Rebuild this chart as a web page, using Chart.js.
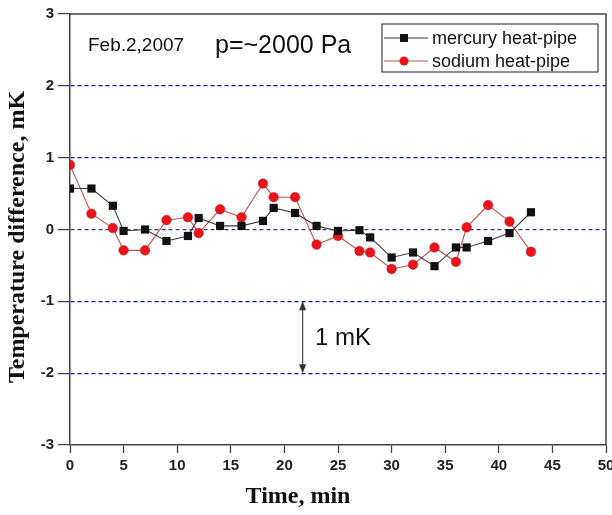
<!DOCTYPE html>
<html>
<head>
<meta charset="utf-8">
<script src="https://cdn.jsdelivr.net/npm/chart.js@4.4.0/dist/chart.umd.min.js"></script>
<style>
html,body{margin:0;padding:0;background:#fff;}
#wrap{width:612px;height:515px;position:relative;}
</style>
</head>
<body>
<div id="wrap"><canvas id="c" width="612" height="515"></canvas></div>
<script>
const times = [0,2,4,5,7,9,11,12,14,16,18,19,21,23,25,27,28,30,32,34,36,37,39,41,43];
const mercury = [0.57,0.57,0.33,-0.02,0.00,-0.16,-0.09,0.16,0.05,0.05,0.12,0.30,0.23,0.05,-0.02,-0.01,-0.11,-0.39,-0.32,-0.51,-0.25,-0.25,-0.16,-0.05,0.24];
const sodium = [0.90,0.22,0.02,-0.29,-0.29,0.13,0.17,-0.05,0.28,0.17,0.64,0.45,0.45,-0.21,-0.09,-0.30,-0.32,-0.55,-0.49,-0.25,-0.45,0.03,0.34,0.11,-0.31];
const seriesNames = ['mercury heat-pipe','sodium heat-pipe'];
const xTitle = 'Time, min';
const yTitle = 'Temperature difference, mK';
const noteDate = 'Feb.2,2007';
const notePressure = 'p=~2000 Pa';
const noteScale = '1 mK';
const scaleBar = {x: 21.7, from: -1, to: -2};

const toPts = (xs, ys) => xs.map((x, i) => ({x: x, y: ys[i]}));

const overlay = {
  id: 'overlay',
  afterDraw(chart) {
    const {ctx, chartArea: a, scales: {x, y}} = chart;
    ctx.save();
    ctx.strokeStyle = '#444';
    ctx.lineWidth = 1.5;
    ctx.beginPath();
    ctx.moveTo(a.left, a.top); ctx.lineTo(a.right, a.top); ctx.lineTo(a.right, a.bottom);
    ctx.stroke();

    ctx.fillStyle = '#111';
    ctx.font = 'bold 24px "Liberation Serif", "Times New Roman", serif';
    ctx.textAlign = 'center';
    ctx.textBaseline = 'middle';
    ctx.fillText(xTitle, 298, 497);
    ctx.save();
    ctx.translate(18, 237);
    ctx.rotate(-Math.PI / 2);
    ctx.fillText(yTitle, 0, 0);
    ctx.restore();

    ctx.textAlign = 'left';
    ctx.fillStyle = '#111';
    ctx.font = '19px "Liberation Sans", Arial, sans-serif';
    ctx.fillText(noteDate, 88, 46);
    ctx.font = '25px "Liberation Sans", Arial, sans-serif';
    ctx.fillText(notePressure, 215, 46);

    const ax = x.getPixelForValue(scaleBar.x);
    const y1 = y.getPixelForValue(scaleBar.from);
    const y2 = y.getPixelForValue(scaleBar.to);
    ctx.strokeStyle = '#555';
    ctx.fillStyle = '#333';
    ctx.lineWidth = 1.3;
    ctx.beginPath(); ctx.moveTo(ax, y1 + 6); ctx.lineTo(ax, y2 - 6); ctx.stroke();
    ctx.beginPath(); ctx.moveTo(ax, y1); ctx.lineTo(ax - 3.5, y1 + 9); ctx.lineTo(ax + 3.5, y1 + 9); ctx.closePath(); ctx.fill();
    ctx.beginPath(); ctx.moveTo(ax, y2); ctx.lineTo(ax - 3.5, y2 - 9); ctx.lineTo(ax + 3.5, y2 - 9); ctx.closePath(); ctx.fill();
    ctx.fillStyle = '#111';
    ctx.font = '24px "Liberation Sans", Arial, sans-serif';
    ctx.textBaseline = 'middle';
    ctx.fillText(noteScale, 315, (y1 + y2) / 2 + 1);

    const lx = 382, ly = 24, lw = 216, lh = 48;
    ctx.fillStyle = '#fff';
    ctx.fillRect(lx, ly, lw, lh);
    ctx.strokeStyle = '#444';
    ctx.lineWidth = 1.2;
    ctx.strokeRect(lx, ly, lw, lh);
    const rows = [
      {name: seriesNames[0], line: '#333', fill: '#111', shape: 'rect', cy: 38},
      {name: seriesNames[1], line: '#c05050', fill: '#e8141c', shape: 'circle', cy: 61}
    ];
    rows.forEach(r => {
      ctx.strokeStyle = r.line;
      ctx.lineWidth = 1.2;
      ctx.beginPath(); ctx.moveTo(lx + 2, r.cy); ctx.lineTo(lx + 46, r.cy); ctx.stroke();
      ctx.fillStyle = r.fill;
      if (r.shape === 'rect') { ctx.fillRect(lx + 18, r.cy - 4, 8, 8); }
      else { ctx.beginPath(); ctx.arc(lx + 22, r.cy, 4.5, 0, Math.PI * 2); ctx.fill(); }
      ctx.fillStyle = '#111';
      ctx.font = '18px "Liberation Sans", Arial, sans-serif';
      ctx.textAlign = 'left';
      ctx.textBaseline = 'middle';
      ctx.fillText(r.name, lx + 50, r.cy + 1);
    });
    ctx.restore();
  }
};

const gridColor = (c) => {
  const v = c.tick ? c.tick.value : null;
  if (v === 3 || v === -3) return 'rgba(0,0,0,0)';
  if (v === 0) return '#3a3a8a';
  return '#0000ee';
};

new Chart(document.getElementById('c'), {
  type: 'line',
  data: {
    datasets: [
      {
        label: seriesNames[0],
        data: toPts(times, mercury),
        borderColor: '#3a3a3a',
        borderWidth: 1.1,
        pointStyle: 'rect',
        pointRadius: 5.8,
        pointBackgroundColor: '#111',
        pointBorderColor: '#111',
        pointBorderWidth: 0,
        tension: 0,
        fill: false
      },
      {
        label: seriesNames[1],
        data: toPts(times, sodium),
        borderColor: '#c05050',
        borderWidth: 1.1,
        pointStyle: 'circle',
        pointRadius: 4.8,
        pointBackgroundColor: '#e8141c',
        pointBorderColor: '#d01018',
        pointBorderWidth: 0.5,
        tension: 0,
        fill: false
      }
    ]
  },
  options: {
    responsive: false,
    animation: false,
    layout: {padding: {top: 14, right: 6, left: 0, bottom: 0}},
    plugins: {legend: {display: false}, tooltip: {enabled: false}},
    scales: {
      x: {
        type: 'linear',
        min: 0, max: 50,
        afterFit(s) { s.height = 70; s.paddingLeft = 0; s.paddingRight = 0; },
        ticks: {stepSize: 5, padding: 4, color: '#222', font: {family: '"Liberation Sans", Arial, sans-serif', size: 15, weight: 'bold'}, maxRotation: 0},
        grid: {drawOnChartArea: false, drawTicks: true, tickLength: 8, tickColor: '#444', tickWidth: 1.3},
        border: {color: '#444', width: 1.5}
      },
      y: {
        min: -3, max: 3,
        afterFit(s) { s.width = 70; s.paddingTop = 0; s.paddingBottom = 0; },
        ticks: {stepSize: 1, padding: 4, color: '#222', font: {family: '"Liberation Sans", Arial, sans-serif', size: 15, weight: 'bold'}},
        grid: {
          drawOnChartArea: true, drawTicks: true, tickLength: 12, tickWidth: 1.3, tickColor: '#444',
          color: gridColor,
          lineWidth: 1.2
        },
        border: {color: '#444', width: 1.5, dash: [4, 3]}
      }
    }
  },
  plugins: [overlay]
});
</script>
</body>
</html>
